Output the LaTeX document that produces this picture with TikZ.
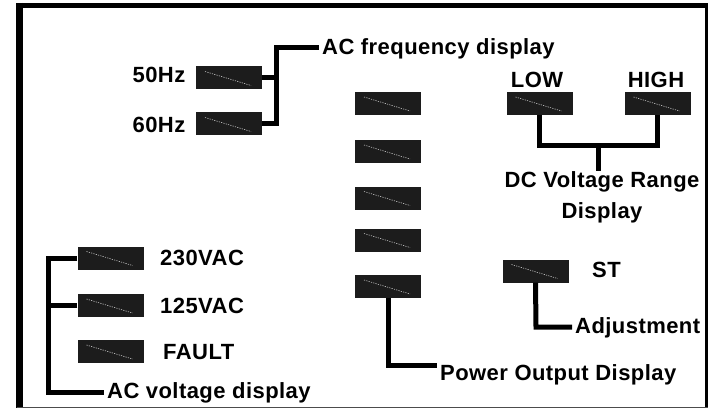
\documentclass[tikz,border=0pt]{standalone}
\usepackage{fontspec}
\setmainfont{Liberation Sans}[LetterSpace=2]
\usetikzlibrary{positioning}

\definecolor{lampblack}{RGB}{28,28,28}

\begin{document}
\begin{tikzpicture}[x=1pt,y=-1pt,
  every node/.style={font=\fontsize{22}{31}\selectfont\bfseries},
  lamp/.style={fill=lampblack,minimum width=66pt,minimum height=23pt,inner sep=0pt,
    path picture={\draw[gray!45,line width=0.6pt,dash pattern=on 1.2pt off 1.2pt]
      ([shift={(9pt,-5pt)}]path picture bounding box.north west) --
      ([shift={(-11pt,4pt)}]path picture bounding box.south east);}},
  lbl/.style={inner xsep=3pt,inner ysep=0pt},
  wire/.style={line width=5pt,line join=miter}]
\useasboundingbox (0,0) rectangle (709,409);

% frame
\draw[line width=6.5pt] (19.5,3) -- (19.5,408);
\draw[line width=5pt] (16,6) -- (708,6);
\draw[line width=3pt] (706.5,4) -- (706.5,408);
\draw[line width=1.5pt,black!70] (17,407.5) -- (708,407.5);

% AC frequency
\node[lamp] (f50) at (229,78) {};
\node[lamp] (f60) at (229,124) {};
\node[lbl,anchor=base] (t50) at (159,83) {50Hz};
\node[lbl,anchor=base] (t60) at (159,132) {60Hz};
\node[lbl,anchor=base west] (acf) at (319,55) {AC frequency display};
\coordinate (fj) at (276,48);
\draw[wire] (f50.east) -| (fj) -- (fj -| acf.west);
\draw[wire] (f60.east) -| (fj);

% power output
\foreach \n/\y in {1/103.5,2/151.5,3/198,4/240,5/286.5}
  \node[lamp] (p\n) at (388,\y) {};
\node[lbl,anchor=base west] (pod) at (437,380) {Power Output Display};
\coordinate (pj) at (388,365);
\draw[wire] (p5.south) -- (pj) -- (pj -| pod.west);

% DC voltage range
\node[lamp] (low) at (539.5,103.5) {};
\node[lamp] (high) at (657.5,103.5) {};
\node[lbl,anchor=base] (tlow) at (537,88) {LOW};
\node[lbl,anchor=base] (thigh) at (656,88) {HIGH};
\node[lbl,align=center,anchor=north] (dcr) at (602,171) {DC Voltage Range\\Display};
\coordinate (dcj) at (598,145);
\draw[wire] (low.south) |- (dcj) -| (high.south);
\draw[wire] (dcj) -- (dcj |- dcr.north);

% ST adjustment
\node[lamp] (st) at (535.5,271) {};
\node[lbl,anchor=base west] (tst) at (589,277) {ST};
\node[lbl,anchor=base west] (adj) at (572,333) {Adjustment};
\coordinate (aj) at (536,327);
\draw[wire] (st.south) -- (aj) -- (aj -| adj.west);

% AC voltage
\node[lamp] (v230) at (110.5,258) {};
\node[lamp] (v125) at (110.5,305.5) {};
\node[lamp] (flt) at (110.5,351.5) {};
\node[lbl,anchor=base west] (t230) at (157,265) {230VAC};
\node[lbl,anchor=base west] (t125) at (157,313) {125VAC};
\node[lbl,anchor=base west] (tflt) at (160,359) {FAULT};
\node[lbl,anchor=base west] (acv) at (104,398) {AC voltage display};
\coordinate (vj) at (48,392);
\draw[wire] (v230.west) -| (vj) -- (vj -| acv.west);
\draw[wire] (v125.west) -- (v125.west -| vj);
\end{tikzpicture}
\end{document}
